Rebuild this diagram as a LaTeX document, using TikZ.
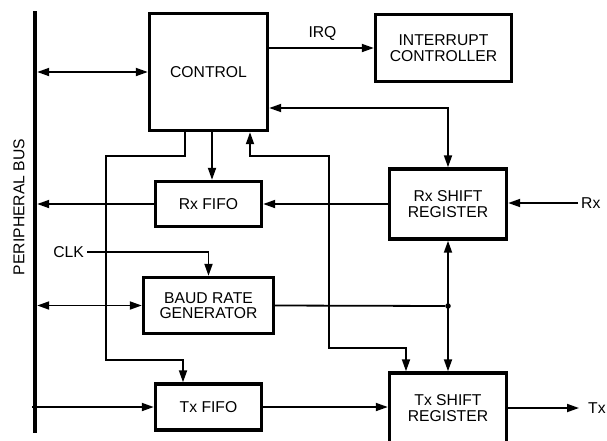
\documentclass[tikz,border=0pt]{standalone}
\usepackage{fontspec}
\setmainfont{Liberation Sans}
\usetikzlibrary{arrows.meta}
\begin{document}
\begin{tikzpicture}[x=1pt,y=-1pt,
  every node/.style={font=\fontsize{15.7}{15.4}\selectfont},
  blk/.style={draw, line width=3.4pt, align=center, inner sep=0pt},
  conn/.style={line width=1.8pt, >={Triangle[length=12pt,width=8pt]}},
  lbl/.style={inner sep=0pt}
]
\useasboundingbox (0,0) rectangle (607,440);
% bus
\node[fill=black, minimum width=4pt, minimum height=422pt, inner sep=0pt] (bus) at (35,222) {};
\node[lbl, rotate=90] (buslbl) at (19,207) {PERIPHERAL BUS};
% blocks
\node[blk, minimum width=118pt, minimum height=117pt] (control) at (208.5,72) {CONTROL};
\node[blk, minimum width=136pt, minimum height=67pt] (intc) at (443.5,48) {INTERRUPT\\CONTROLLER};
\node[blk, minimum width=106pt, minimum height=45pt] (rxfifo) at (208.5,204) {Rx FIFO};
\node[blk, minimum width=117pt, minimum height=70pt] (rxsh) at (448,204) {Rx SHIFT\\REGISTER};
\node[blk, minimum width=130pt, minimum height=56pt] (brg) at (208.5,305.5) {BAUD RATE\\GENERATOR};
\node[blk, minimum width=106pt, minimum height=46pt] (txfifo) at (208.5,407) {Tx FIFO};
\node[blk, minimum width=117pt, minimum height=70pt] (txsh) at (448,408) {Tx SHIFT\\REGISTER};
% labels
\node[lbl] (irq) at (322.5,33) {IRQ};
\node[lbl, anchor=east] (clk) at (84,252) {CLK};
\node[lbl, anchor=west] (rxl) at (581,203) {Rx};
\node[lbl, anchor=west] (txl) at (588,408) {Tx};
% helper coordinates
\coordinate (b1) at (448,108);
\coordinate (p1) at (185,156);
\coordinate (p2) at (106,156);
\coordinate (p3) at (106,360);
\coordinate (p4) at (183,360);
\coordinate (q) at (212,0);
\coordinate (r1) at (250,156);
\coordinate (r2) at (329,156);
\coordinate (r3) at (329,348);
\coordinate (r4) at (406,348);
\coordinate (k) at (208.5,252);
\coordinate (rxin) at (578,203);
\coordinate (txout) at (579,408);
\coordinate (t0) at (32,407);
\node[circle, fill=black, inner sep=0pt, minimum size=5.5pt] (dot) at (448,306) {};
% connectors
\draw[conn,<->] (bus.east |- control.west) -- (control.west);
\draw[conn,->] (control.east |- intc.west) -- (intc.west);
\draw[conn,<->] (control.east |- b1) -- (b1) -- (rxsh.north);
\draw[conn,->] (control.south -| p1) -- (p1) -- (p2) -- (p3) -- (p4) -- (txfifo.north -| p4);
\draw[conn,->] (control.south -| q) -- (rxfifo.north -| q);
\draw[conn,<->] (control.south -| r1) -- (r1) -- (r2) -- (r3) -- (r4) -- (txsh.north -| r4);
\draw[conn,->] (rxsh.west) -- (rxfifo.east);
\draw[conn,->] (rxfifo.west) -- (bus.east |- rxfifo.west);
\draw[conn,->] (rxin) -- (rxsh.east |- rxin);
\draw[conn,->] (clk.east) ++(3,0) -- (k) -- (brg.north);
\draw[conn,<->] (bus.east |- brg.west) -- (brg.west);
\draw[conn] (brg.east) -- (dot);
\draw[conn,<->] (rxsh.south) -- (txsh.north);
\draw[conn,->] (t0) -- (txfifo.west);
\draw[conn,->] (txfifo.east) -- (txsh.west |- txfifo.east);
\draw[conn,->] (txsh.east) -- (txout);
\end{tikzpicture}
\end{document}
